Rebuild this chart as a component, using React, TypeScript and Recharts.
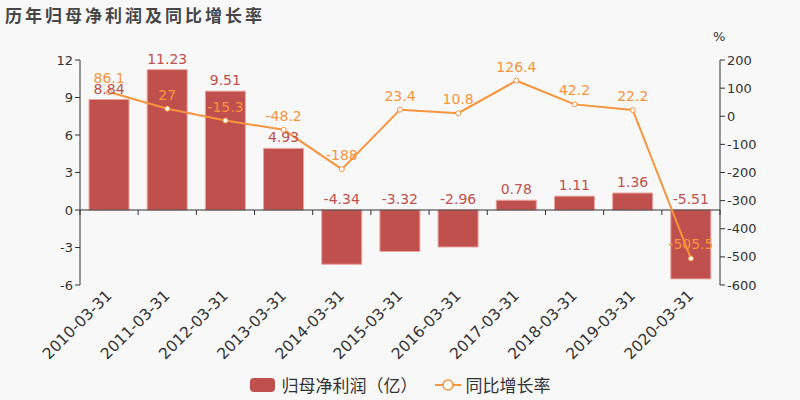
import React from 'react';
import { ComposedChart, Bar, Line, XAxis, YAxis, ReferenceLine, LabelList } from 'recharts';

const categories = ['2010-03-31', '2011-03-31', '2012-03-31', '2013-03-31', '2014-03-31', '2015-03-31', '2016-03-31', '2017-03-31', '2018-03-31', '2019-03-31', '2020-03-31'];
const profit = [8.84, 11.23, 9.51, 4.93, -4.34, -3.32, -2.96, 0.78, 1.11, 1.36, -5.51];
const growth = [86.1, 27, -15.3, -48.2, -188, 23.4, 10.8, 126.4, 42.2, 22.2, -505.5];
const leftTicks = [-6, -3, 0, 3, 6, 9, 12];
const rightTicks = [-600, -500, -400, -300, -200, -100, 0, 100, 200];

const data = categories.map((c, i) => ({ name: c, profit: profit[i], growth: growth[i] }));

const BAR = '#c0504d';
const LINE = '#f7953e';
const FONT = '"DejaVu Sans", "Noto Sans CJK SC", sans-serif';

const BarLabel = (props: any) => {
  const { x, y, width, height, value } = props;
  const top = Math.min(y, y + height);
  return (
    <text x={x + width / 2} y={top - 6} textAnchor="middle" fill={BAR} fontSize={14} fontFamily={FONT}>
      {value}
    </text>
  );
};

const LineLabel = (props: any) => {
  const { x, y, value } = props;
  return (
    <text x={x} y={y - 9} textAnchor="middle" fill={LINE} fontSize={14} fontFamily={FONT}>
      {value}
    </text>
  );
};

const XTick = (props: any) => {
  const { x, y, payload } = props;
  return (
    <g transform={`translate(${x},${y + 8}) rotate(-45)`}>
      <text x={0} y={0} dy={5} textAnchor="end" fill="#333" fontSize={15.5} fontFamily={FONT}>
        {payload.value}
      </text>
    </g>
  );
};

const ZeroLine = (props: any) => {
  const { x1, x2, y1 } = props;
  const n = categories.length;
  const step = (x2 - x1) / n;
  const ticks = [];
  for (let i = 0; i <= n; i++) {
    const tx = x1 + i * step;
    ticks.push(<line key={i} x1={tx} x2={tx} y1={y1} y2={y1 + 5} stroke="#333" strokeWidth={1} />);
  }
  return (
    <g>
      <line x1={x1} x2={x2} y1={y1} y2={y1} stroke="#333" strokeWidth={1} />
      {ticks}
    </g>
  );
};

const LegendBox = () => (
  <div style={{ position: 'absolute', left: 0, top: 376, width: 800, display: 'flex', justifyContent: 'center', alignItems: 'center', fontFamily: '"Noto Sans CJK SC", sans-serif', fontSize: 17, color: '#333', lineHeight: '18px' }}>
    <svg width={25} height={14} style={{ marginRight: 7 }}>
      <rect x={0} y={0} width={25} height={14} rx={4} fill={BAR} />
    </svg>
    <span style={{ marginRight: 17 }}>归母净利润（亿）</span>
    <svg width={26} height={14} style={{ marginRight: 5 }}>
      <line x1={0} x2={26} y1={7} y2={7} stroke={LINE} strokeWidth={2} />
      <circle cx={13} cy={7} r={5} fill="#fff" stroke={LINE} strokeWidth={1.5} />
    </svg>
    <span>同比增长率</span>
  </div>
);

export default function App() {
  return (
    <div style={{ position: 'absolute', left: 0, top: 0, width: 800, height: 400, background: '#f8f8f8' }}>
      <div style={{ position: 'absolute', left: 5, top: 2, fontFamily: '"Noto Sans CJK SC", sans-serif', fontSize: 17, fontWeight: 'bold', color: '#464646', letterSpacing: 3 }}>
        历年归母净利润及同比增长率
      </div>
      <div style={{ position: 'absolute', left: 713, top: 29, fontFamily: FONT, fontSize: 13, color: '#333' }}>%</div>
      <ComposedChart width={800} height={400} data={data} margin={{ top: 60, right: 0, left: 0, bottom: 30 }}>
        <XAxis dataKey="name" height={85} axisLine={false} tickLine={false} tickSize={0} tickMargin={0} tick={<XTick />} interval={0} />
        <YAxis yAxisId="left" width={80} domain={[-6, 12]} ticks={leftTicks} interval={0} stroke="#333" tickSize={5} tick={{ fill: '#333', fontSize: 13, fontFamily: FONT }} />
        <YAxis yAxisId="right" orientation="right" width={80} domain={[-600, 200]} ticks={rightTicks} interval={0} stroke="#333" tickSize={5} tick={{ fill: '#333', fontSize: 13, fontFamily: FONT }} />
        <ReferenceLine yAxisId="left" y={0} shape={<ZeroLine />} />
        <Bar yAxisId="left" dataKey="profit" fill={BAR} stroke="#e8a3a1" strokeWidth={1} barSize={40} isAnimationActive={false}>
          <LabelList dataKey="profit" content={<BarLabel />} />
        </Bar>
        <Line yAxisId="right" dataKey="growth" stroke={LINE} strokeWidth={2} dot={{ r: 2.5, fill: '#fff', stroke: LINE, strokeWidth: 1 }} isAnimationActive={false}>
          <LabelList dataKey="growth" content={<LineLabel />} />
        </Line>
      </ComposedChart>
      <LegendBox />
    </div>
  );
}
